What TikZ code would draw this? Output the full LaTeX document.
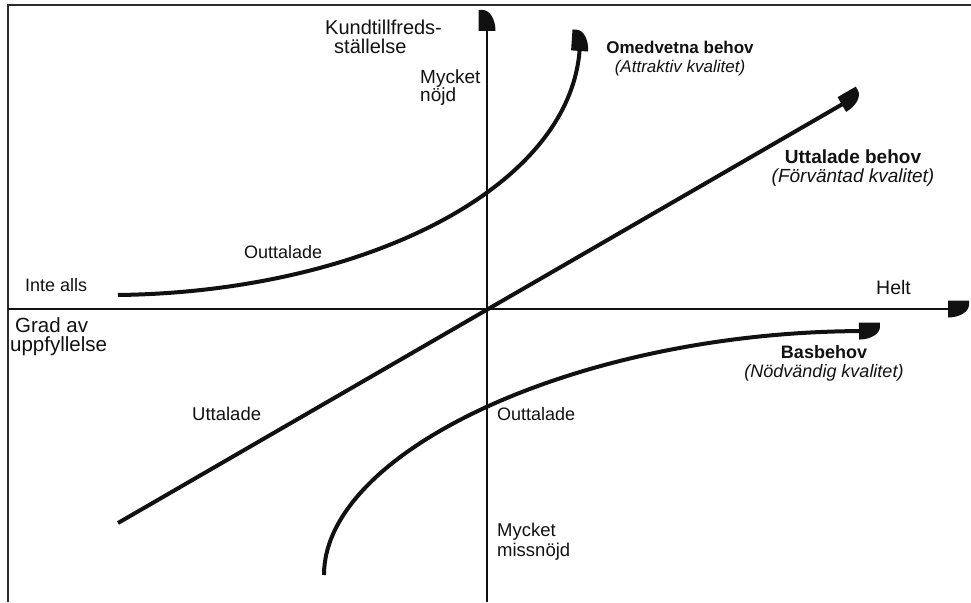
\documentclass[tikz,border=0pt]{standalone}
\usepackage{fontspec}
\setmainfont{Liberation Sans}
\usepackage{tikz}
\usetikzlibrary{arrows.meta}
\definecolor{kanoink}{HTML}{111111}
\definecolor{kanoframe}{HTML}{2B2B2B}

% quarter-disc arrow head
\pgfdeclarearrow{
  name = Quarter,
  defaults = {length = 21pt, width = 17pt},
  setup code = {
    \pgfarrowssettipend{\pgfarrowlength}
    \pgfarrowssetlineend{2pt}
    \pgfarrowssetbackend{0pt}
    \pgfarrowssetvisualbackend{0pt}
    \pgfarrowssavethe\pgfarrowlength
    \pgfarrowssavethe\pgfarrowwidth
  },
  drawing code = {
    \pgfpathmoveto{\pgfqpoint{0pt}{-.5\pgfarrowwidth}}
    \pgfpathlineto{\pgfqpoint{0pt}{.5\pgfarrowwidth}}
    \pgfpathlineto{\pgfqpoint{\pgfarrowlength}{.5\pgfarrowwidth}}
    \pgfpathlineto{\pgfqpoint{\pgfarrowlength}{.25\pgfarrowwidth}}
    \pgfpathcurveto{\pgfqpoint{\pgfarrowlength}{-.164\pgfarrowwidth}}{\pgfqpoint{.55\pgfarrowlength}{-.5\pgfarrowwidth}}{\pgfqpoint{0pt}{-.5\pgfarrowwidth}}
    \pgfpathclose
    \pgfusepathqfill
  },
  parameters = {\the\pgfarrowlength,\the\pgfarrowwidth},
}

\begin{document}
\begin{tikzpicture}[x=1pt, y=-1pt,
  lbl/.style={kanoink, inner sep=0pt, font=\fontsize{18}{19}\selectfont},
  need/.style={kanoink, inner sep=0pt, align=center, font=\fontsize{17}{19}\selectfont},
  axisline/.style={kanoink, line width=1.8pt, -{Quarter}},
  curveline/.style={kanoink, line width=4pt, -{Quarter}}]
  \useasboundingbox (0,0) rectangle (971,602);

  % Frame (top and left edge only)
  \draw[kanoframe, line width=2pt] (971,5) -- (8,5) -- (8,602);

  % Axes
  \coordinate (O) at (487,309);
  \coordinate (ybot) at (487,602);
  \coordinate (ytop) at (487,10);
  \coordinate (xleft) at (8,309);
  \coordinate (xright) at (969,309);
  \draw[axisline] (ybot) -- (ytop);
  \draw[axisline] (xleft) -- (xright);

  % Axis labels
  \node[lbl, font=\fontsize{20}{19}\selectfont, anchor=west, align=left] (satis) at (325,36.5) {Kundtillfreds-\\\hspace*{9pt}ställelse};
  \node[lbl, font=\fontsize{19}{18}\selectfont, anchor=west, align=left] (nojd) at (420,88) {Mycket\\nöjd};
  \node[lbl, font=\fontsize{18.5}{20}\selectfont, anchor=west, align=left] (missnojd) at (497,542) {Mycket\\missnöjd};
  \node[lbl, anchor=west] (inteall) at (25,285) {Inte alls};
  \node[lbl, font=\fontsize{19.5}{19}\selectfont, anchor=west] (helt) at (876,288) {Helt};
  \node[lbl, font=\fontsize{20.5}{19}\selectfont, anchor=west, align=left] (grad) at (10,337) {\hspace*{5pt}Grad av\\uppfyllelse};

  % Attraktiv kvalitet
  \coordinate (att0) at (118,295);
  \coordinate (att1) at (581,30);
  \draw[curveline] (att0) .. controls (360,292) and (570,190) .. (att1);
  \node[lbl, anchor=west] (attlow) at (244,252) {Outtalade};
  \node[need] (attname) at (680,59) {\textbf{Omedvetna behov}\\\textit{(Attraktiv kvalitet)}};

  % Förväntad kvalitet
  \coordinate (exp0) at (118,523);
  \coordinate (exp1) at (860,94);
  \draw[curveline] (exp0) -- (exp1);
  \node[lbl, font=\fontsize{18.5}{19}\selectfont, anchor=west] (explow) at (192,414) {Uttalade};
  \node[need, font=\fontsize{19}{19.5}\selectfont] (expname) at (853,168) {\textbf{Uttalade behov}\\\textit{(Förväntad kvalitet)}};

  % Nödvändig kvalitet
  \coordinate (bas0) at (324,575);
  \coordinate (bas1) at (880,331);
  \draw[curveline] (bas0) .. controls (324,450) and (581,332) .. (bas1);
  \node[lbl, anchor=west] (baslow) at (497,414) {Outtalade};
  \node[need, font=\fontsize{18}{19}\selectfont] (basname) at (824,363) {\textbf{Basbehov}\\\textit{(Nödvändig kvalitet)}};
\end{tikzpicture}
\end{document}
